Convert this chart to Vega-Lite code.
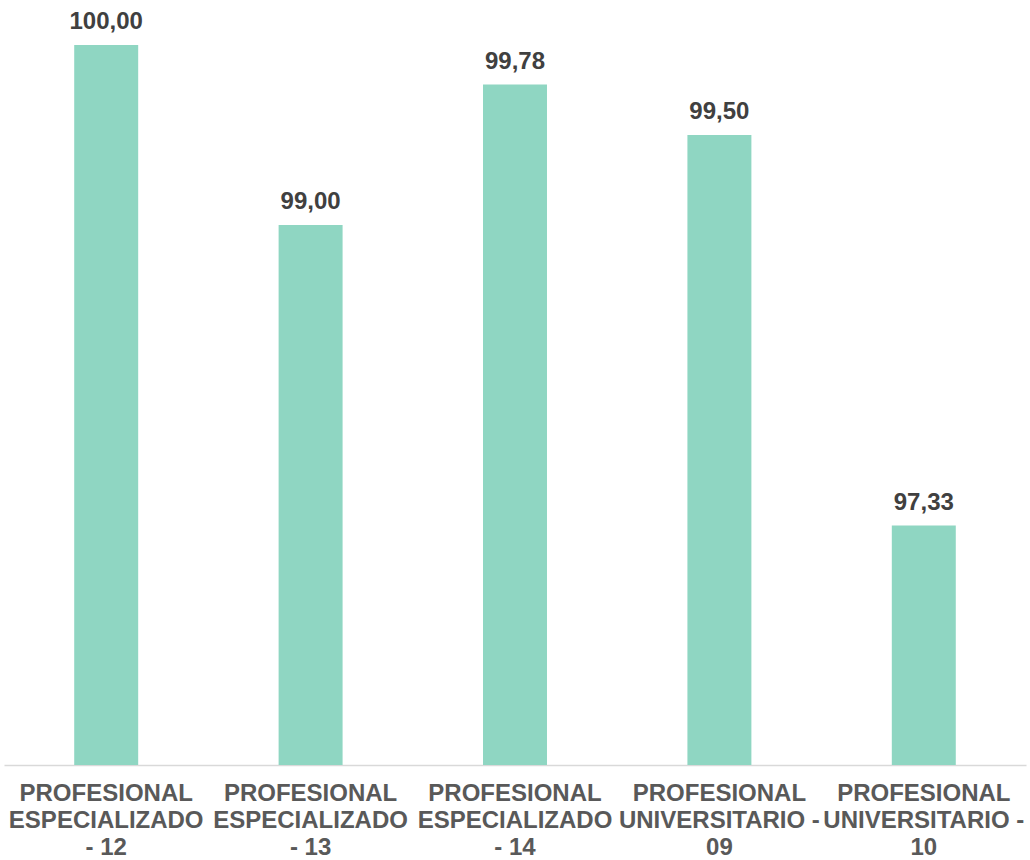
{
  "$schema": "https://vega.github.io/schema/vega-lite/v6.json",
  "autosize": {"type": "none"},
  "padding": {"left": 4, "top": 9, "right": 4, "bottom": 95},
  "width": 1022,
  "height": 756,
  "background": "#ffffff",
  "data": {
    "values": [
      {"cargo": "PROFESIONAL ESPECIALIZADO - 12", "valor": 100.0},
      {"cargo": "PROFESIONAL ESPECIALIZADO - 13", "valor": 99.0},
      {"cargo": "PROFESIONAL ESPECIALIZADO - 14", "valor": 99.78},
      {"cargo": "PROFESIONAL UNIVERSITARIO - 09", "valor": 99.5},
      {"cargo": "PROFESIONAL UNIVERSITARIO - 10", "valor": 97.33}
    ]
  },
  "encoding": {
    "x": {
      "field": "cargo",
      "type": "nominal",
      "sort": null,
      "scale": {"paddingInner": 0.687, "paddingOuter": 0.3435},
      "axis": {
        "title": null,
        "labelAngle": 0,
        "ticks": false,
        "grid": false,
        "domainColor": "#d9d9d9",
        "domainWidth": 1.5,
        "labelFont": "Liberation Sans",
        "labelFontSize": 24,
        "labelFontWeight": "bold",
        "labelColor": "#595959",
        "labelLineHeight": 27.4,
        "labelPadding": 16,
        "labelLimit": 0,
        "labelExpr": "indexof(datum.label, 'ESPECIALIZADO') >= 0 ? split(replace(replace(datum.label, ' ESP', '|ESP'), ' - ', '|- '), '|') : split(replace(replace(datum.label, ' UNI', '|UNI'), '- ', '-|'), '|')"
      }
    },
    "y": {
      "field": "valor",
      "type": "quantitative",
      "scale": {"domain": [96, 100.2], "zero": false, "nice": false},
      "axis": null
    }
  },
  "layer": [
    {
      "mark": {"type": "bar", "color": "#8fd6c2", "clip": true}
    },
    {
      "mark": {
        "type": "text",
        "font": "Liberation Sans",
        "fontSize": 24,
        "fontWeight": "bold",
        "color": "#404040",
        "baseline": "alphabetic",
        "dy": -16
      },
      "encoding": {
        "text": {"field": "valor", "type": "quantitative", "format": ".2f"}
      }
    }
  ],
  "config": {
    "view": {"stroke": null},
    "locale": {
      "number": {
        "decimal": ",",
        "thousands": ".",
        "grouping": [3],
        "currency": ["", " €"]
      }
    }
  }
}
